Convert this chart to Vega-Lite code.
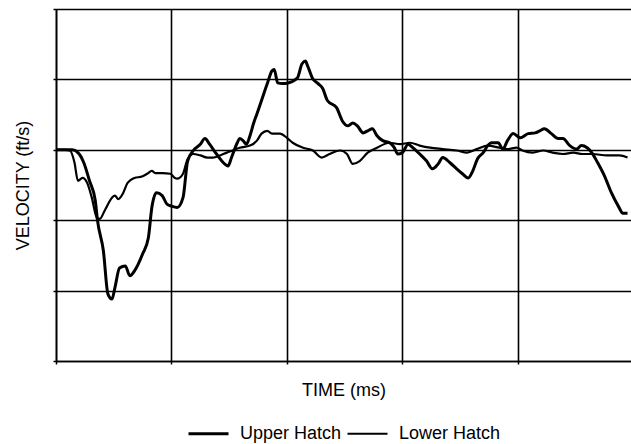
{
  "$schema": "https://vega.github.io/schema/vega-lite/v6.json",
  "autosize": {"type": "none"},
  "padding": {"left": 56, "top": 9, "right": 0, "bottom": 83},
  "width": 575,
  "height": 352,
  "background": "white",
  "config": {
    "view": {"stroke": null},
    "font": "Liberation Sans",
    "axis": {
      "domainColor": "black", "domainWidth": 1.6,
      "gridColor": "black", "gridWidth": 1.6, "gridOpacity": 1,
      "tickColor": "black", "tickWidth": 1.5, "tickSize": 3,
      "labels": false,
      "titleFont": "Liberation Sans", "titleFontSize": 18, "titleFontWeight": "normal", "titleColor": "black"
    }
  },
  "data": {"values": [
    {"t":0,"v":0,"s":"Upper Hatch"},{"t":8,"v":0,"s":"Upper Hatch"},{"t":14,"v":0,"s":"Upper Hatch"},{"t":19,"v":-4,"s":"Upper Hatch"},{"t":24,"v":-18,"s":"Upper Hatch"},{"t":29,"v":-44,"s":"Upper Hatch"},{"t":34,"v":-72,"s":"Upper Hatch"},{"t":36,"v":-101,"s":"Upper Hatch"},{"t":41,"v":-143,"s":"Upper Hatch"},{"t":45,"v":-205,"s":"Upper Hatch"},{"t":48.5,"v":-212,"s":"Upper Hatch"},{"t":51,"v":-196,"s":"Upper Hatch"},{"t":55,"v":-168,"s":"Upper Hatch"},{"t":60,"v":-165,"s":"Upper Hatch"},{"t":64,"v":-179,"s":"Upper Hatch"},{"t":68,"v":-172,"s":"Upper Hatch"},{"t":75,"v":-148,"s":"Upper Hatch"},{"t":80,"v":-125,"s":"Upper Hatch"},{"t":83,"v":-82,"s":"Upper Hatch"},{"t":87,"v":-61,"s":"Upper Hatch"},{"t":92,"v":-65,"s":"Upper Hatch"},{"t":96,"v":-77,"s":"Upper Hatch"},{"t":100,"v":-80,"s":"Upper Hatch"},{"t":105,"v":-82,"s":"Upper Hatch"},{"t":110,"v":-68,"s":"Upper Hatch"},{"t":114,"v":-16,"s":"Upper Hatch"},{"t":119,"v":-1,"s":"Upper Hatch"},{"t":125,"v":8,"s":"Upper Hatch"},{"t":129,"v":16,"s":"Upper Hatch"},{"t":133,"v":8,"s":"Upper Hatch"},{"t":139,"v":-6,"s":"Upper Hatch"},{"t":146,"v":-20,"s":"Upper Hatch"},{"t":149,"v":-23,"s":"Upper Hatch"},{"t":152,"v":-11,"s":"Upper Hatch"},{"t":157,"v":10,"s":"Upper Hatch"},{"t":159,"v":16,"s":"Upper Hatch"},{"t":162,"v":13,"s":"Upper Hatch"},{"t":165,"v":8,"s":"Upper Hatch"},{"t":168,"v":20,"s":"Upper Hatch"},{"t":171,"v":37,"s":"Upper Hatch"},{"t":174,"v":51,"s":"Upper Hatch"},{"t":178,"v":70,"s":"Upper Hatch"},{"t":183,"v":94,"s":"Upper Hatch"},{"t":187,"v":112,"s":"Upper Hatch"},{"t":189,"v":114,"s":"Upper Hatch"},{"t":192,"v":95,"s":"Upper Hatch"},{"t":196,"v":94,"s":"Upper Hatch"},{"t":201,"v":95,"s":"Upper Hatch"},{"t":209,"v":102,"s":"Upper Hatch"},{"t":213,"v":122,"s":"Upper Hatch"},{"t":216,"v":126,"s":"Upper Hatch"},{"t":218,"v":119,"s":"Upper Hatch"},{"t":222,"v":102,"s":"Upper Hatch"},{"t":227,"v":94,"s":"Upper Hatch"},{"t":231,"v":87,"s":"Upper Hatch"},{"t":235,"v":70,"s":"Upper Hatch"},{"t":243,"v":60,"s":"Upper Hatch"},{"t":248,"v":41,"s":"Upper Hatch"},{"t":253,"v":34,"s":"Upper Hatch"},{"t":257,"v":38,"s":"Upper Hatch"},{"t":261,"v":34,"s":"Upper Hatch"},{"t":266,"v":24,"s":"Upper Hatch"},{"t":270,"v":27,"s":"Upper Hatch"},{"t":274,"v":30,"s":"Upper Hatch"},{"t":278,"v":20,"s":"Upper Hatch"},{"t":283,"v":13,"s":"Upper Hatch"},{"t":289,"v":10,"s":"Upper Hatch"},{"t":293,"v":3,"s":"Upper Hatch"},{"t":296,"v":-6,"s":"Upper Hatch"},{"t":300,"v":-4,"s":"Upper Hatch"},{"t":305,"v":8,"s":"Upper Hatch"},{"t":309,"v":3,"s":"Upper Hatch"},{"t":315,"v":-6,"s":"Upper Hatch"},{"t":321,"v":-16,"s":"Upper Hatch"},{"t":326,"v":-27,"s":"Upper Hatch"},{"t":331,"v":-20,"s":"Upper Hatch"},{"t":335,"v":-11,"s":"Upper Hatch"},{"t":341,"v":-18,"s":"Upper Hatch"},{"t":347,"v":-27,"s":"Upper Hatch"},{"t":352,"v":-34,"s":"Upper Hatch"},{"t":357,"v":-40,"s":"Upper Hatch"},{"t":361,"v":-30,"s":"Upper Hatch"},{"t":365,"v":-13,"s":"Upper Hatch"},{"t":370,"v":-4,"s":"Upper Hatch"},{"t":374,"v":6,"s":"Upper Hatch"},{"t":377,"v":10,"s":"Upper Hatch"},{"t":383,"v":10,"s":"Upper Hatch"},{"t":387,"v":1,"s":"Upper Hatch"},{"t":391,"v":13,"s":"Upper Hatch"},{"t":396,"v":23,"s":"Upper Hatch"},{"t":402,"v":17,"s":"Upper Hatch"},{"t":409,"v":23,"s":"Upper Hatch"},{"t":415,"v":24,"s":"Upper Hatch"},{"t":419,"v":27,"s":"Upper Hatch"},{"t":423,"v":30,"s":"Upper Hatch"},{"t":429,"v":23,"s":"Upper Hatch"},{"t":435,"v":16,"s":"Upper Hatch"},{"t":439,"v":16,"s":"Upper Hatch"},{"t":445,"v":6,"s":"Upper Hatch"},{"t":451,"v":1,"s":"Upper Hatch"},{"t":455,"v":6,"s":"Upper Hatch"},{"t":460,"v":3,"s":"Upper Hatch"},{"t":464,"v":-4,"s":"Upper Hatch"},{"t":469,"v":-18,"s":"Upper Hatch"},{"t":475,"v":-37,"s":"Upper Hatch"},{"t":481,"v":-61,"s":"Upper Hatch"},{"t":487,"v":-80,"s":"Upper Hatch"},{"t":491,"v":-90,"s":"Upper Hatch"},{"t":495,"v":-90,"s":"Upper Hatch"},
    {"t":0,"v":0,"s":"Lower Hatch"},{"t":8,"v":0,"s":"Lower Hatch"},{"t":12,"v":-1,"s":"Lower Hatch"},{"t":16,"v":-18,"s":"Lower Hatch"},{"t":19,"v":-44,"s":"Lower Hatch"},{"t":23,"v":-40,"s":"Lower Hatch"},{"t":27,"v":-47,"s":"Lower Hatch"},{"t":31,"v":-68,"s":"Lower Hatch"},{"t":35.5,"v":-97,"s":"Lower Hatch"},{"t":38,"v":-98,"s":"Lower Hatch"},{"t":42,"v":-87,"s":"Lower Hatch"},{"t":48.5,"v":-68,"s":"Lower Hatch"},{"t":51,"v":-65,"s":"Lower Hatch"},{"t":54,"v":-70,"s":"Lower Hatch"},{"t":58,"v":-62,"s":"Lower Hatch"},{"t":62,"v":-47,"s":"Lower Hatch"},{"t":68,"v":-40,"s":"Lower Hatch"},{"t":74.5,"v":-38,"s":"Lower Hatch"},{"t":79,"v":-34,"s":"Lower Hatch"},{"t":83,"v":-30,"s":"Lower Hatch"},{"t":86,"v":-33,"s":"Lower Hatch"},{"t":92,"v":-33,"s":"Lower Hatch"},{"t":99,"v":-34,"s":"Lower Hatch"},{"t":103,"v":-40,"s":"Lower Hatch"},{"t":105,"v":-41,"s":"Lower Hatch"},{"t":110,"v":-34,"s":"Lower Hatch"},{"t":114,"v":-13,"s":"Lower Hatch"},{"t":119,"v":-6,"s":"Lower Hatch"},{"t":125,"v":-8,"s":"Lower Hatch"},{"t":131,"v":-11,"s":"Lower Hatch"},{"t":136,"v":-11,"s":"Lower Hatch"},{"t":142,"v":-8,"s":"Lower Hatch"},{"t":148,"v":-4,"s":"Lower Hatch"},{"t":153,"v":-1,"s":"Lower Hatch"},{"t":159,"v":3,"s":"Lower Hatch"},{"t":168,"v":6,"s":"Lower Hatch"},{"t":174,"v":13,"s":"Lower Hatch"},{"t":178,"v":23,"s":"Lower Hatch"},{"t":183,"v":27,"s":"Lower Hatch"},{"t":187,"v":23,"s":"Lower Hatch"},{"t":194,"v":23,"s":"Lower Hatch"},{"t":200,"v":17,"s":"Lower Hatch"},{"t":205,"v":10,"s":"Lower Hatch"},{"t":214,"v":3,"s":"Lower Hatch"},{"t":222.5,"v":-1,"s":"Lower Hatch"},{"t":230,"v":-11,"s":"Lower Hatch"},{"t":237,"v":-6,"s":"Lower Hatch"},{"t":246,"v":-1,"s":"Lower Hatch"},{"t":252,"v":-6,"s":"Lower Hatch"},{"t":257,"v":-20,"s":"Lower Hatch"},{"t":263,"v":-16,"s":"Lower Hatch"},{"t":270,"v":-4,"s":"Lower Hatch"},{"t":278,"v":3,"s":"Lower Hatch"},{"t":289,"v":10,"s":"Lower Hatch"},{"t":298,"v":8,"s":"Lower Hatch"},{"t":306.5,"v":10,"s":"Lower Hatch"},{"t":315,"v":6,"s":"Lower Hatch"},{"t":324,"v":3,"s":"Lower Hatch"},{"t":335,"v":1,"s":"Lower Hatch"},{"t":347,"v":-1,"s":"Lower Hatch"},{"t":356,"v":-4,"s":"Lower Hatch"},{"t":364.5,"v":1,"s":"Lower Hatch"},{"t":374,"v":6,"s":"Lower Hatch"},{"t":384,"v":3,"s":"Lower Hatch"},{"t":391,"v":1,"s":"Lower Hatch"},{"t":399,"v":3,"s":"Lower Hatch"},{"t":404,"v":-1,"s":"Lower Hatch"},{"t":413,"v":-4,"s":"Lower Hatch"},{"t":422,"v":-1,"s":"Lower Hatch"},{"t":430,"v":-4,"s":"Lower Hatch"},{"t":439,"v":-6,"s":"Lower Hatch"},{"t":448,"v":-4,"s":"Lower Hatch"},{"t":456,"v":-6,"s":"Lower Hatch"},{"t":465,"v":-6,"s":"Lower Hatch"},{"t":477,"v":-8,"s":"Lower Hatch"},{"t":488,"v":-8,"s":"Lower Hatch"},{"t":495,"v":-11,"s":"Lower Hatch"}
  ]},
  "mark": {"type": "line", "color": "black", "interpolate": "monotone", "clip": true},
  "encoding": {
    "x": {"field": "t", "type": "quantitative", "scale": {"domain": [0, 498], "nice": false},
      "axis": {"values": [0, 100, 200, 300, 400], "title": "TIME (ms)", "titlePadding": 17}},
    "y": {"field": "v", "type": "quantitative", "scale": {"domain": [-300, 200], "nice": false},
      "axis": {"values": [-300, -200, -100, 0, 100, 200], "title": "VELOCITY (ft/s)", "titlePadding": 20}},
    "strokeWidth": {"field": "s", "type": "ordinal",
      "scale": {"domain": ["Upper Hatch", "Lower Hatch"], "range": [3, 2.2]},
      "legend": {"title": null, "orient": "none", "direction": "horizontal", "legendX": 131, "legendY": 403,
        "symbolType": "stroke", "symbolSize": 1600, "symbolStrokeColor": "black",
        "labelFont": "Liberation Sans", "labelFontSize": 18, "labelColor": "black", "labelOffset": 10, "columnPadding": 1}}
  }
}
